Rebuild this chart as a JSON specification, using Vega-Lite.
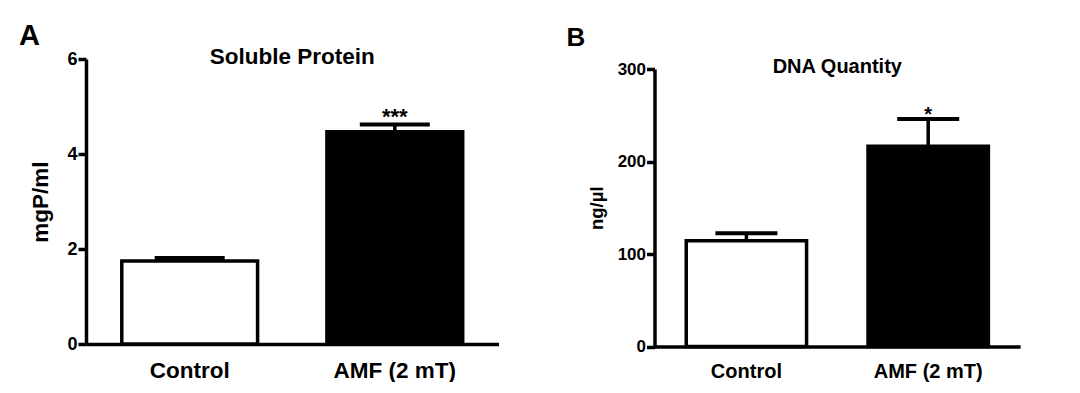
{
  "$schema": "https://vega.github.io/schema/vega-lite/v6.json",
  "background": "white",
  "autosize": {"type": "pad"},
  "padding": {"left": 19, "top": 22, "right": 0, "bottom": 0},
  "bounds": "flush",
  "spacing": 155.5,
  "config": {
    "view": {"stroke": null},
    "font": "Liberation Sans",
    "axis": {
      "domainColor": "black", "domainWidth": 3.5,
      "tickColor": "black", "tickWidth": 3.5,
      "labelColor": "black", "labelFontWeight": "bold",
      "titleColor": "black", "titleFontWeight": "bold",
      "grid": false
    }
  },
  "hconcat": [
    {
      "width": 412.5,
      "height": 285,
      "title": {"text": "A", "anchor": "start", "frame": "group", "align": "left", "baseline": "alphabetic", "fontSize": 29, "fontWeight": "bold", "color": "black", "dx": -67, "offset": -28},
      "data": {"values": [
        {"group": "Control", "mean": 1.75, "upper": 1.81, "sig": ""},
        {"group": "AMF (2 mT)", "mean": 4.47, "upper": 4.62, "sig": "***"}
      ]},
      "layer": [
        {
          "mark": {"type": "bar", "stroke": "black", "strokeWidth": 3.5},
          "encoding": {
            "x": {"field": "group", "type": "nominal", "sort": null,
              "scale": {"paddingInner": 0.338, "paddingOuter": 0.1745},
              "axis": {"title": null, "labelAngle": 0, "ticks": false, "labelFontSize": 22.5, "labelPadding": 15}},
            "y": {"field": "mean", "type": "quantitative",
              "scale": {"domain": [0, 6], "nice": false},
              "axis": {"values": [0, 2, 4, 6], "tickSize": 8, "labelPadding": 1, "labelFontSize": 18, "title": "mgP/ml", "titleFontSize": 22.5, "titlePadding": 14}},
            "fill": {"field": "group", "type": "nominal", "scale": {"domain": ["Control", "AMF (2 mT)"], "range": ["white", "black"]}, "legend": null}
          }
        },
        {
          "mark": {"type": "rule", "strokeWidth": 3.5, "color": "black"},
          "encoding": {
            "x": {"field": "group", "type": "nominal", "sort": null},
            "y": {"field": "mean", "type": "quantitative"},
            "y2": {"field": "upper"}
          }
        },
        {
          "mark": {"type": "tick", "orient": "horizontal", "size": 70, "thickness": 4, "color": "black", "opacity": 1},
          "encoding": {
            "x": {"field": "group", "type": "nominal", "sort": null},
            "y": {"field": "upper", "type": "quantitative"}
          }
        },
        {
          "mark": {"type": "text", "fontSize": 22, "fontWeight": "bold", "baseline": "alphabetic", "dy": -1, "color": "black"},
          "encoding": {
            "x": {"field": "group", "type": "nominal", "sort": null},
            "y": {"field": "upper", "type": "quantitative"},
            "text": {"field": "sig"}
          }
        },
        {
          "data": {"values": [{"t": "Soluble Protein"}]},
          "mark": {"type": "text", "fontSize": 22.5, "fontWeight": "bold", "baseline": "alphabetic", "dy": 5, "color": "black"},
          "encoding": {
            "y": {"datum": 6, "type": "quantitative"},
            "text": {"field": "t"}
          }
        }
      ]
    },
    {
      "width": 365.6,
      "height": 287.5,
      "title": {"text": "B", "anchor": "start", "frame": "group", "align": "left", "baseline": "alphabetic", "fontSize": 26, "fontWeight": "bold", "color": "black", "dx": -88, "offset": -15},
      "data": {"values": [
        {"group": "Control", "mean": 114.4, "upper": 122.5, "sig": ""},
        {"group": "AMF (2 mT)", "mean": 216.4, "upper": 246, "sig": "*"}
      ]},
      "layer": [
        {
          "mark": {"type": "bar", "stroke": "black", "strokeWidth": 3.5},
          "encoding": {
            "x": {"field": "group", "type": "nominal", "sort": null,
              "scale": {"paddingInner": 0.338, "paddingOuter": 0.1745},
              "axis": {"title": null, "labelAngle": 0, "ticks": false, "labelFontSize": 20, "labelPadding": 14.5}},
            "y": {"field": "mean", "type": "quantitative",
              "scale": {"domain": [0, 300], "nice": false, "range": [287.5, 10]},
              "axis": {"values": [0, 100, 200, 300], "tickSize": 8, "labelPadding": 1, "labelFontSize": 17, "title": "ng/µl", "titleFontSize": 18.5, "titlePadding": 11}},
            "fill": {"field": "group", "type": "nominal", "scale": {"domain": ["Control", "AMF (2 mT)"], "range": ["white", "black"]}, "legend": null}
          }
        },
        {
          "mark": {"type": "rule", "strokeWidth": 3.5, "color": "black"},
          "encoding": {
            "x": {"field": "group", "type": "nominal", "sort": null},
            "y": {"field": "mean", "type": "quantitative"},
            "y2": {"field": "upper"}
          }
        },
        {
          "mark": {"type": "tick", "orient": "horizontal", "size": 62, "thickness": 4, "color": "black", "opacity": 1},
          "encoding": {
            "x": {"field": "group", "type": "nominal", "sort": null},
            "y": {"field": "upper", "type": "quantitative"}
          }
        },
        {
          "mark": {"type": "text", "fontSize": 20, "fontWeight": "bold", "baseline": "alphabetic", "dy": 2, "color": "black"},
          "encoding": {
            "x": {"field": "group", "type": "nominal", "sort": null},
            "y": {"field": "upper", "type": "quantitative"},
            "text": {"field": "sig"}
          }
        },
        {
          "data": {"values": [{"t": "DNA Quantity"}]},
          "mark": {"type": "text", "fontSize": 20, "fontWeight": "bold", "baseline": "alphabetic", "dy": 4, "color": "black"},
          "encoding": {
            "y": {"datum": 300, "type": "quantitative"},
            "text": {"field": "t"}
          }
        }
      ]
    }
  ]
}
